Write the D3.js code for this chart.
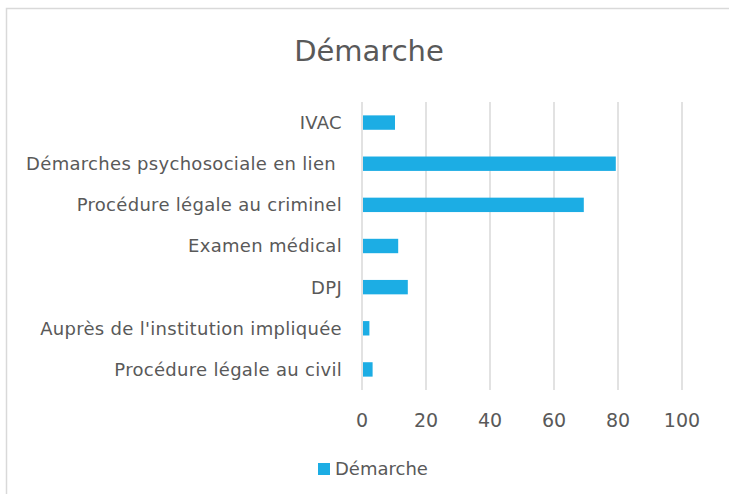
<!DOCTYPE html>
<html>
<head>
<meta charset="utf-8">
<script src="https://cdn.jsdelivr.net/npm/d3@7"></script>
<style>
  body { margin: 0; background: #fff; }
  svg text { font-family: "DejaVu Sans", sans-serif; fill: #595959; }
</style>
</head>
<body>
<svg id="chart" width="729" height="494"></svg>
<script>
// data, top to bottom as shown
var categories = ["IVAC", "Démarches psychosociale en lien ", "Procédure légale au criminel",
  "Examen médical", "DPJ", "Auprès de l'institution impliquée", "Procédure légale au civil"];
var values = [10, 79, 69, 11, 14, 2, 3];
var ticks = [0, 20, 40, 60, 80, 100];
var seriesName = "Démarche";

var svg = d3.select("#chart");

// chart area border (cropped on right/bottom)
svg.append("rect")
  .attr("x", 6.5).attr("y", 8.5)
  .attr("width", 740).attr("height", 500)
  .attr("fill", "#fff")
  .attr("stroke", "#d9d9d9")
  .attr("stroke-width", 1.5);

svg.append("text")
  .text(seriesName)
  .attr("x", 369).attr("y", 61)
  .attr("text-anchor", "middle")
  .style("font-size", "29px");

var x = d3.scaleLinear().domain([0, 100]).range([362, 682]);
var y = d3.scaleBand().domain(categories).range([102, 390])
  .paddingInner(0.65).paddingOuter(0.325);

// vertical gridlines
svg.append("g").selectAll("line")
  .data(ticks)
  .enter()
  .append("line")
    .attr("x1", function(d){ return x(d); })
    .attr("x2", function(d){ return x(d); })
    .attr("y1", 102).attr("y2", 390)
    .attr("stroke", "#d9d9d9")
    .attr("stroke-width", 1.5);

// bars
svg.append("g").selectAll("rect")
  .data(values)
  .enter()
  .append("rect")
    .attr("x", x(0) + 1)
    .attr("y", function(d, i){ return y(categories[i]); })
    .attr("width", function(d){ return x(d) - x(0); })
    .attr("height", y.bandwidth())
    .attr("fill", "#1cade4");

// category labels
svg.append("g").selectAll("text")
  .data(categories)
  .enter()
  .append("text")
    .text(function(d){ return d; })
    .attr("x", 342)
    .attr("y", function(d){ return y(d) + y.bandwidth() / 2; })
    .attr("dy", "0.36em")
    .attr("text-anchor", "end")
    .style("white-space", "pre")
    .style("letter-spacing", "0.3px")
    .style("font-size", "18px");

// x tick labels
svg.append("g").selectAll("text")
  .data(ticks)
  .enter()
  .append("text")
    .text(function(d){ return d; })
    .attr("x", function(d){ return x(d); })
    .attr("y", 427)
    .attr("text-anchor", "middle")
    .style("font-size", "19px");

// legend
var legend = svg.append("g");
legend.append("rect")
  .attr("x", 318).attr("y", 463)
  .attr("width", 12).attr("height", 12)
  .attr("fill", "#1cade4");
legend.append("text")
  .text(seriesName)
  .attr("x", 335).attr("y", 475)
  .style("font-size", "18px");
</script>
</body>
</html>
